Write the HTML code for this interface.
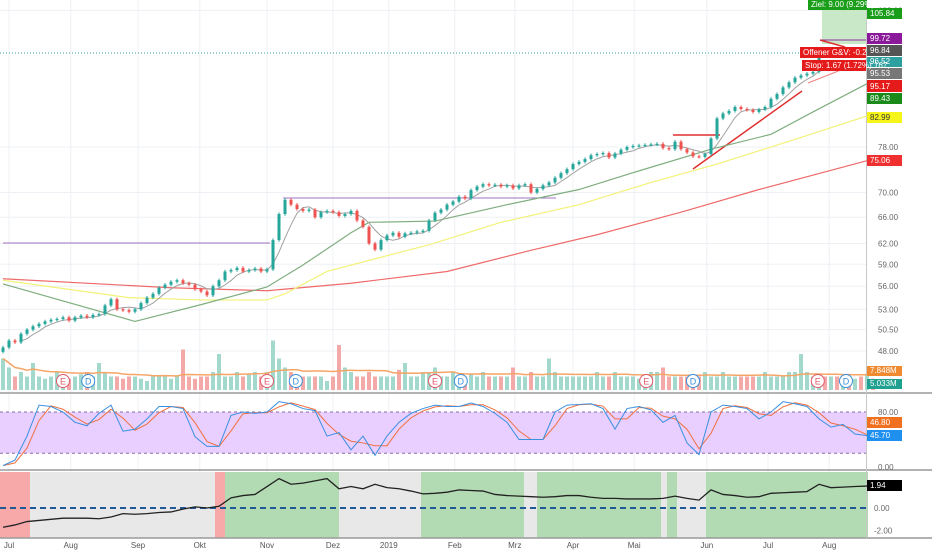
<!DOCTYPE html>
<html><head><meta charset="utf-8">
<style>
html,body{margin:0;padding:0;background:#fff;}
svg{display:block;font-family:"Liberation Sans",sans-serif;}
</style></head>
<body>
<svg id="chart" width="932" height="550" viewBox="0 0 932 550" xmlns="http://www.w3.org/2000/svg">
<g id="grid"></g>
<g id="panebg"></g>
<g id="vol"></g>
<g id="main"></g>
<g id="stoch"></g>
<g id="osc"></g>
<g id="axis"></g>
</svg>
<script>
const closes=[48.4,49.2,49,50,50.5,50.9,51.2,51.5,51.7,51.8,52,51.6,52,52.2,52,52.3,52.4,53.5,54.3,53,52.9,52.7,53,53.8,54.5,55,55.8,56.2,56.6,56.8,56.4,56.2,55.6,55.3,54.8,56,56.8,58,58.2,58.5,58,58.2,58.4,58,58.3,62.5,66.5,68.8,68,67.3,67,67.2,66,66.8,67,66.8,66.2,66.5,67,65.5,64.5,62,61.1,62.5,63.2,63.6,63,63.5,63.6,63.8,63.9,65.5,66.7,67.2,68,68.5,69.3,69,70.4,71,71.4,71.2,71.3,71,71.2,70.7,71.2,71.4,70,70.6,71.2,71.7,72.5,73.3,74,74.9,75.3,75.8,76.5,76.7,76.9,76.1,76.8,77.5,78,78.2,78.3,78.4,78.5,78.6,77.8,77.6,79,77.6,77,76.3,76.2,76.7,79.6,83.5,84.5,85,85.8,85.4,85.2,84.8,85.3,85.8,87.5,88.5,89.9,91,92,92.5,92.9,93.3,96.6];
const volumes=[7,5,3,4,3,6,3,2.5,3,4,3,2.5,3,3.5,4,3,6,4,3,3,2.5,3,3,2.5,2,3,3,3,2.5,3,9,3,2.5,3,3,4,8,3,3,4,3,3.5,4,3,4,11,7,5,4,3,3,3,3,3,2,3,10,5,4,3,3,4,3,3,3,3,4.5,6,3,3,4,4,5,3,3,4,3,3,3.5,3,4,3,3,3,3,5,3,3,4,3,3,7,4,3,3,3,3,3,3,4,3,3,4,3,3,3,2.5,3,4,4,5,3,3,3,3,3,3,4,3,3,4,3,3,3,3,3,3,4,3,3,3,4,4,8,4,3,3,3,3,3,2.5,3,2.5,3,3.5,2.5];
const maGreen=[56.3,51.5,53.6,55.9,58.9,63.6,65.2,65.4,68,70.5,73.7,77.6,80.4,84.8,90.7];
const maGreenBar=[0,22,33,44,50,58,61,72,84,96,106,118,128,135,144];
const maYellow=[56.8,54.5,54.2,54.2,55,58,60,61.8,65.2,68,71.7,74.9,79.8,84];
const maYellowBar=[0,21,33,44,47,54,63,71,83,96,108,119,133,144];
const maRed=[57,55.8,55.4,56.4,58,61,63.3,66.8,70.5,75.5];
const maRedBar=[0,28,44,58,74,88,99,113,126,144];
const stochK=[2,10,45,90,88,80,65,60,78,90,52,55,70,88,88,85,44,30,30,75,80,78,80,95,92,85,82,45,50,25,45,17,45,65,78,85,90,88,88,93,88,78,65,40,40,40,80,90,91,92,85,55,85,88,83,65,75,35,18,80,90,88,85,70,80,95,92,88,70,58,62,48,45.7];
const oscLine=[-1.7,-1.5,-1.2,-1.1,-1.0,-0.9,-0.9,-0.9,-0.95,-0.8,-0.5,-0.55,-0.5,-0.4,-0.35,-0.1,0.1,0.0,0.15,0.9,1.1,1.2,1.9,2.6,2.1,2.2,2.4,2.6,1.7,1.9,1.7,2.1,1.8,1.7,1.5,1.25,1.3,1.4,1.6,1.55,1.5,1.2,1.1,1.05,1.0,0.95,1.0,1.1,1.1,0.95,0.85,0.85,0.8,0.8,0.8,0.85,1.05,0.85,0.7,1.6,1.2,1.1,0.95,1.0,1.3,1.35,1.4,1.45,2.1,1.8,1.85,1.9,1.94];
const priceTicks=[108,78,70,66,62,59,56,53,50.5,48];
const monthLabels=["Jul","Aug","Sep","Okt","Nov","Dez","2019","Feb","Mrz","Apr","Mai","Jun","Jul","Aug"];
const monthBars=[1,11.3,22.5,32.8,44,55,64.3,75.3,85.3,95,105.2,117.3,127.5,137.7];
const zoneStart=[0,30,215,225,339,356,421,524,537,661,667,677,706];
const zoneEnd=[30,215,225,339,356,421,524,537,661,667,677,706,868];
const zoneType=["r","g","r","G","g","g","G","g","G","g","G","g","G"];

const NS="http://www.w3.org/2000/svg";
function mk(tag,attrs,parent){const e=document.createElementNS(NS,tag);for(const k in attrs)e.setAttribute(k,attrs[k]);parent.appendChild(e);return e;}
const X=i=>3+6*i;
const Y=p=>192.5-420*Math.log(p/70);
const VY=v=>390-v*4.5;
const SX=i=>3+12*i;
const SY=v=>467-v*0.6875;
const OY=v=>508-v*11.3;
const grid=document.getElementById('grid'),main=document.getElementById('main'),vol=document.getElementById('vol'),st=document.getElementById('stoch'),osc=document.getElementById('osc'),ax=document.getElementById('axis'),pb=document.getElementById('panebg');

monthBars.forEach((b,i)=>{const l=mk('line',{x1:X(b),x2:X(b),y1:0,y2:538,stroke:'#eef0f5','stroke-width':1},grid);

});
priceTicks.forEach(p=>{const l=mk('line',{x1:0,x2:866,y1:Y(p),y2:Y(p),stroke:'#eef0f5'},grid);

});

zoneStart.forEach((s,i)=>{const c=zoneType[i]==='r'?'#f7a9a9':zoneType[i]==='G'?'#b3dbb3':'#e8e8e8';
const r=mk('rect',{x:s,y:472,width:zoneEnd[i]-s,height:66,fill:c},pb);

});

{const r=mk('rect',{x:0,y:SY(80),width:866,height:SY(20)-SY(80),fill:'#e8cfff'},pb);

}
[80,20].forEach(v=>{const l=mk('line',{x1:0,x2:866,y1:SY(v),y2:SY(v),stroke:'#8a6aa8','stroke-dasharray':'3,3'},pb);

});

[393,470,538].forEach(y=>{const l=mk('line',{x1:0,x2:932,y1:y,y2:y,stroke:'#9a9a9a','stroke-width':1.5},pb);

});
{const l=mk('line',{x1:866.5,x2:866.5,y1:0,y2:538,stroke:'#c8c8c8'},pb);

}

volumes.forEach((v,i)=>{const up=i>0&&i<closes.length?closes[i]>=closes[i-1]:(i%2===0);
const r=mk('rect',{x:X(i)-2,y:VY(v),width:4,height:390-VY(v),fill:up?'#a3d9cd':'#f4a9a9'},vol);

});
{let pts=[];volumes.forEach((v,i)=>{const a=volumes.slice(Math.max(0,i-19),i+1);pts.push(X(i)+','+VY(a.reduce((s,x)=>s+x,0)/a.length));});
const p=mk('polyline',{points:pts.join(' '),fill:'none',stroke:'#f5a566','stroke-width':1.5},vol);

}

function line(x1,y1,x2,y2,c,n,w,d){const l=mk('line',{x1,y1,x2,y2,stroke:c,'stroke-width':w||1},main);if(d)l.setAttribute('stroke-dasharray',d);return l;}
line(0,53,866,53,'#3aa0a0','current-price-line',1,'1,2');
line(3,243,270,243,'#a070c0','resistance-line-1');
line(283,198,556,198,'#a070c0','resistance-line-2');
line(673,135,720,135,'#e03030','resistance-line-red',1.5);
line(693,169,802,91,'#e03030','trendline-1',1.5);
line(808,83,866,60,'#f08080','trendline-2',1);
{const r=mk('rect',{x:822,y:10,width:44,height:34,fill:'#c8e8c8'},main);

}
line(820,40,866,40,'#9030a0','target-entry-line',1);
line(820,40,845,47,'#e03030','stop-line',1.5);

function maLine(vals,bars,col,n){const p=mk('polyline',{points:vals.map((v,i)=>X(bars[i])+','+Y(v)).join(' '),fill:'none',stroke:col,'stroke-width':1.2},main);}
maLine(maRed,maRedBar,'#ef6a6a','ma-200');
maLine(maYellow,maYellowBar,'#f2f27a','ma-100');
maLine(maGreen,maGreenBar,'#7fae7f','ma-50');
{let pts=[];closes.forEach((c,i)=>{if(i<3)return;const a=closes.slice(Math.max(0,i-4),i+1);pts.push(X(i)+','+Y(a.reduce((s,x)=>s+x,0)/a.length));});
const p=mk('polyline',{points:pts.join(' '),fill:'none',stroke:'#a0a0a0','stroke-width':1},main);

}

closes.forEach((c,i)=>{const o=i>0?closes[i-1]:c-0.5;const up=c>=o;const col=up?'#26a69a':'#ef5350';
const hi=Math.max(o,c)*1.004,lo=Math.min(o,c)*0.996;
const g=mk('g',{},main);


mk('line',{x1:X(i),x2:X(i),y1:Y(hi),y2:Y(lo),stroke:col},g);
const t=Math.min(Y(o),Y(c)),h=Math.max(1.2,Math.abs(Y(o)-Y(c)));
mk('rect',{x:X(i)-1.5,y:t,width:3,height:h,fill:col},g);});

[[10,'E','#e05a6a'],[14.2,'D','#3a8fd8'],[44,'E','#e05a6a'],[48.8,'D','#3a8fd8'],[72,'E','#e05a6a'],[76.3,'D','#3a8fd8'],[107.2,'E','#e05a6a'],[115,'D','#3a8fd8'],[135.8,'E','#e05a6a'],[140.5,'D','#3a8fd8']].forEach(m=>{
const g=mk('g',{},vol);


mk('circle',{cx:X(m[0]),cy:381,r:6.5,fill:'#fff',stroke:m[2],'stroke-width':1},g);
const t=mk('text',{x:X(m[0]),y:384.5,'font-size':9,'text-anchor':'middle',fill:m[2]},g);t.textContent=m[1];});

{const K=stochK.map((v,i)=>SX(i)+','+SY(v)).join(' ');
const D=stochK.map((v,i)=>{const a=stochK.slice(Math.max(0,i-1),i+1);return SX(i)+','+SY(a.reduce((s,x)=>s+x,0)/a.length);}).join(' ');
const pd=mk('polyline',{points:D,fill:'none',stroke:'#f07040','stroke-width':1},st);


const pk=mk('polyline',{points:K,fill:'none',stroke:'#3a90e0','stroke-width':1},st);

}

{const l=mk('line',{x1:0,x2:866,y1:OY(0),y2:OY(0),stroke:'#1f5a96','stroke-width':2,'stroke-dasharray':'6,4'},osc);


const p=mk('polyline',{points:oscLine.map((v,i)=>SX(i)+','+OY(v)).join(' '),fill:'none',stroke:'#222','stroke-width':1.3},osc);

}

function txt(x,y,s,c,n,size,anchor){const t=mk('text',{x,y,'font-size':size||8,fill:c||'#555','text-anchor':anchor||'start'},ax);t.textContent=s;return t;}
priceTicks.forEach(p=>txt(878,Y(p)+3,p.toFixed(2),'#666','price-tick'));
[[80,'80.00'],[0,'0.00']].forEach(a=>txt(878,SY(a[0])+3,a[1],'#666','stoch-tick'));
[[0,'0.00'],[-2,'-2.00']].forEach(a=>txt(874,OY(a[0])+3,a[1],'#666','osc-tick'));
monthLabels.forEach((m,i)=>txt(X(monthBars[i]),548,m,'#555','time-label',8,'middle'));
function badge(y,h,bg,fg,s,n,x,w){const g=mk('g',{},ax);
mk('rect',{x:x||867,y,width:w||35,height:h,fill:bg},g);
const t=mk('text',{x:(x||867)+3,y:y+h-3,'font-size':8,fill:fg},g);t.textContent=s;}
badge(8,11,'#1a9e1a','#fff','105.84','label-target');
badge(33,11,'#8a1a9a','#fff','99.72','label-entry');
badge(45,11,'#555','#fff','96.84','label-last');
badge(57,10,'#2fa0a0','#fff','96.52','label-current');
badge(68,11,'#777','#fff','95.53','label-ma-short');
badge(80,12,'#e51a1a','#fff','95.17','label-stop');
badge(93,11,'#1a8a1a','#fff','89.43','label-ma50');
badge(112,11,'#f5f51a','#333','82.99','label-ma100');
badge(155,11,'#f03030','#fff','75.06','label-ma200');
badge(366,10,'#f08a30','#fff','7.848M','label-volume-ma');
badge(379,10,'#20a090','#fff','5.033M','label-volume');
badge(417,11,'#f07020','#fff','46.80','label-stoch-d');
badge(430,11,'#2090f0','#fff','45.70','label-stoch-k');
badge(480,11,'#000','#fff','1.94','label-osc');
badge(0,10,'#1a9e1a','#fff','Ziel: 9.00 (9.29%) 900','label-target-info',808,59);
badge(47,11,'#e51a1a','#fff','Offener G&V: -0.2','label-open-pl',800,66);
badge(60,11,'#e51a1a','#fff','Stop: 1.67 (1.72%) 167,','label-stop-info',802,64);
</script>
</body></html>
